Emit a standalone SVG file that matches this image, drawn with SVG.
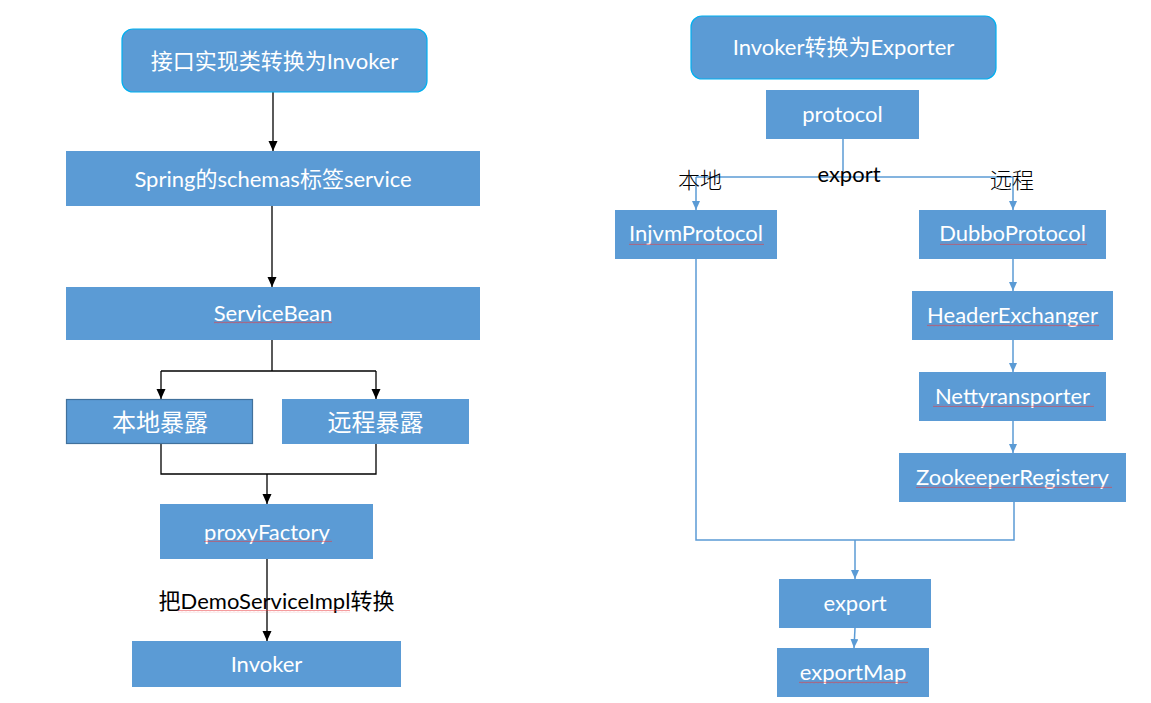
<svg xmlns="http://www.w3.org/2000/svg" width="1151" height="703" viewBox="0 0 1151 703">
<style>
.box{fill:#5b9bd5;}
.title{fill:#5b9bd5;stroke:#00b0f0;stroke-width:1.2;}
.dark{stroke:#41719c;stroke-width:1.2;}
.lbl{font-family:Lato,"Noto Sans CJK SC",sans-serif;font-size:22px;fill:#ffffff;text-anchor:middle;}
.cj{font-family:"Noto Sans CJK SC",sans-serif;font-size:24px;fill:#ffffff;text-anchor:middle;}
.blk{font-family:Lato,"Noto Sans CJK SC",sans-serif;font-size:22px;fill:#000000;text-anchor:middle;}
.cjb{font-family:"Noto Sans CJK SC",sans-serif;font-size:22px;font-weight:300;fill:#000000;text-anchor:middle;}
.kline{fill:none;stroke:#000000;stroke-width:1.3;}
.bline{fill:none;stroke:#5b9bd5;stroke-width:1.5;}
.wavy{fill:url(#wave);}
</style>
<defs>
<marker id="ak" markerUnits="userSpaceOnUse" markerWidth="10" markerHeight="10" refX="10" refY="4.5" orient="auto">
<path d="M0,0 L10,4.5 L0,9 z" fill="#000000"/>
</marker>
<marker id="ab" markerUnits="userSpaceOnUse" markerWidth="10" markerHeight="10" refX="9" refY="4" orient="auto">
<path d="M0,0 L9,4 L0,8 z" fill="#5b9bd5"/>
</marker>
<pattern id="wave" patternUnits="userSpaceOnUse" width="4" height="3">
<path d="M0,2.2 L1,0.8 L2,2.2 L3,0.8 L4,2.2" fill="none" stroke="#e8393d" stroke-width="0.6" stroke-opacity="0.85"/>
</pattern>
</defs>

<g id="connectors">
<path class="kline" d="M273,92 L273,151" marker-end="url(#ak)"/>
<path class="kline" d="M272,206 L272,287" marker-end="url(#ak)"/>
<path class="kline" d="M272,340 L272,371"/>
<path class="kline" d="M161,371 L376,371"/>
<path class="kline" d="M161,371 L161,399" marker-end="url(#ak)"/>
<path class="kline" d="M376,371 L376,399" marker-end="url(#ak)"/>
<path class="kline" d="M161,444 L161,474 L376,474 L376,444"/>
<path class="kline" d="M267,474 L267,504" marker-end="url(#ak)"/>
<path class="kline" d="M267,559 L267,641" marker-end="url(#ak)"/>

<path class="bline" d="M843,139 L843,177"/>
<path class="bline" d="M696,177 L1013,177"/>
<path class="bline" d="M696,177 L696,210" marker-end="url(#ab)"/>
<path class="bline" d="M1013,177 L1013,210" marker-end="url(#ab)"/>
<path class="bline" d="M1013,259 L1013,291" marker-end="url(#ab)"/>
<path class="bline" d="M1013,340 L1013,372" marker-end="url(#ab)"/>
<path class="bline" d="M1013,421 L1013,453" marker-end="url(#ab)"/>
<path class="bline" d="M696,259 L696,540 L1014,540 L1014,502"/>
<path class="bline" d="M855,540 L855,579" marker-end="url(#ab)"/>
<path class="bline" d="M855,628 L854,648" marker-end="url(#ab)"/>
</g>

<g id="n-title-left">
<rect class="title" x="122" y="29" width="305" height="63" rx="11"/>
<text class="lbl" x="274.5" y="69" font-size="23">接口实现类转换为Invoker</text>
</g>
<g id="n-spring">
<rect class="box" x="66" y="151" width="414" height="55"/>
<text class="lbl" x="273" y="187">Spring的schemas标签service</text>
</g>
<g id="n-servicebean">
<rect class="box" x="66" y="287" width="414" height="53"/>
<text class="lbl" x="273" y="321">ServiceBean</text>
<rect class="wavy" x="214" y="321" width="118" height="3"/>
</g>
<g id="n-local">
<rect class="box dark" x="66.5" y="399.5" width="186" height="44"/>
<text class="cj" x="160" y="431">本地暴露</text>
</g>
<g id="n-remote">
<rect class="box" x="282" y="399" width="187" height="45"/>
<text class="cj" x="375.5" y="431">远程暴露</text>
</g>
<g id="n-proxyfactory">
<rect class="box" x="160" y="504" width="213" height="55"/>
<text class="lbl" x="267" y="540">proxyFactory</text>
<rect class="wavy" x="204" y="539" width="128" height="3"/>
</g>
<g id="lbl-demo">
<text class="blk" x="276.5" y="609">把DemoServiceImpl转换</text>
<rect class="wavy" x="178" y="610" width="172" height="3"/>
</g>
<g id="n-invoker">
<rect class="box" x="132" y="641" width="269" height="46"/>
<text class="lbl" x="266.5" y="672">Invoker</text>
</g>

<g id="n-title-right">
<rect class="title" x="691" y="16" width="305" height="63" rx="11"/>
<text class="lbl" x="843.5" y="55">Invoker转换为Exporter</text>
</g>
<g id="n-protocol">
<rect class="box" x="766" y="90" width="153" height="49"/>
<text class="lbl" x="842.5" y="122">protocol</text>
</g>
<g id="lbl-export">
<text class="blk" x="849" y="182" font-size="21">export</text>
</g>
<g id="lbl-local">
<text class="cjb" x="700" y="188">本地</text>
</g>
<g id="lbl-remote">
<text class="cjb" x="1012" y="188">远程</text>
</g>
<g id="n-injvm">
<rect class="box" x="615" y="210" width="162" height="49"/>
<text class="lbl" x="696" y="241">InjvmProtocol</text>
<rect class="wavy" x="629" y="242" width="135" height="3"/>
</g>
<g id="n-dubbo">
<rect class="box" x="919" y="210" width="187" height="49"/>
<text class="lbl" x="1012.5" y="241">DubboProtocol</text>
<rect class="wavy" x="940" y="242" width="147" height="3"/>
</g>
<g id="n-header">
<rect class="box" x="912" y="291" width="201" height="49"/>
<text class="lbl" x="1012.5" y="323">HeaderExchanger</text>
<rect class="wavy" x="927" y="324" width="172" height="3"/>
</g>
<g id="n-netty">
<rect class="box" x="919" y="372" width="187" height="49"/>
<text class="lbl" x="1012.5" y="404">Nettyransporter</text>
<rect class="wavy" x="933" y="404" width="161" height="3"/>
</g>
<g id="n-zookeeper">
<rect class="box" x="899" y="453" width="227" height="49"/>
<text class="lbl" x="1012.5" y="485">ZookeeperRegistery</text>
<rect class="wavy" x="916" y="485" width="196" height="3"/>
</g>
<g id="n-export">
<rect class="box" x="779" y="579" width="152" height="49"/>
<text class="lbl" x="855" y="611">export</text>
</g>
<g id="n-exportmap">
<rect class="box" x="777" y="648" width="152" height="49"/>
<text class="lbl" x="853" y="680">exportMap</text>
<rect class="wavy" x="799" y="681" width="109" height="3"/>
</g>
</svg>
